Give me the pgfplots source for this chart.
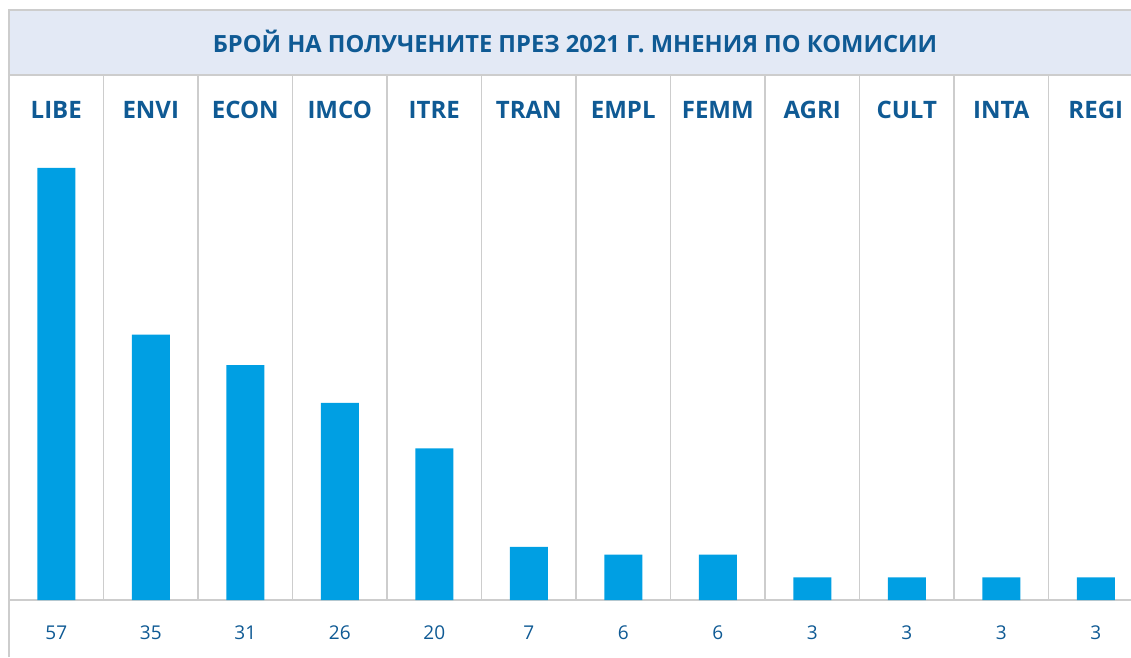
\documentclass[border=0pt]{standalone}
\usepackage{pgfplots}
\pgfplotsset{compat=1.18}
\usepackage{pgfplotstable}
\usepackage{fontspec}
\setmainfont{Open Sans}
\definecolor{barblue}{HTML}{009FE3}
\definecolor{txtblue}{HTML}{0F5A94}
\definecolor{band}{HTML}{E3E9F5}
\definecolor{gridgray}{HTML}{CDCDCD}
\pgfplotstableread{
x v zero name
0 57 0 LIBE
1 35 0 ENVI
2 31 0 ECON
3 26 0 IMCO
4 20 0 ITRE
5 7 0 TRAN
6 6 0 EMPL
7 6 0 FEMM
8 3 0 AGRI
9 3 0 CULT
10 3 0 INTA
11 3 0 REGI
}\data
\begin{document}
\begin{tikzpicture}[x=1pt,y=1pt]
\useasboundingbox (0,0) rectangle (1131,657);
\fill[band] (9,582) rectangle (1131,647);
\draw[gridgray, line width=1.5pt] (9,647) -- (1131,647);
\draw[gridgray, line width=1.2pt] (9,582) -- (1131,582);
\draw[gridgray, line width=1.5pt] (9,0) -- (9,647.75);
\foreach \k in {1,...,11} \draw[gridgray, line width=1.2pt] ({9+94.5*\k},57) -- ({9+94.5*\k},582);
\draw[gridgray, line width=1.5pt] (9,57) -- (1131,57);
\node[txtblue, font=\bfseries\fontsize{23.7}{28}\selectfont] at (575,615.5) {БРОЙ НА ПОЛУЧЕНИТЕ ПРЕЗ 2021 Г. МНЕНИЯ ПО КОМИСИИ};
\begin{axis}[
  at={(9pt,57pt)}, anchor=south west, scale only axis,
  width=1122pt, height=590pt,
  xmin=-0.5, xmax=11.373, ymin=0, ymax=77.83,
  axis line style={draw=none},
  major tick length=0pt,
  ytick=\empty,
  xtick={0,...,11},
  xticklabels from table={\data}{name},
  xticklabel pos=upper,
  xticklabel style={anchor=center, yshift=-99.5pt, font=\bfseries\fontsize{24}{28}\selectfont, text=txtblue},
  /pgf/number format/assume math mode=true,
  clip=false,
]
\addplot[ybar, bar width=38pt, fill=barblue, draw=none] table[x=x, y=v] {\data};
\addplot[draw=none, mark=none, nodes near coords, point meta=explicit,
  every node near coord/.style={anchor=center, yshift=-32.5pt, font=\fontsize{19}{23}\selectfont, text=txtblue}]
  table[x=x, y=zero, meta=v] {\data};
\end{axis}
\end{tikzpicture}
\end{document}
